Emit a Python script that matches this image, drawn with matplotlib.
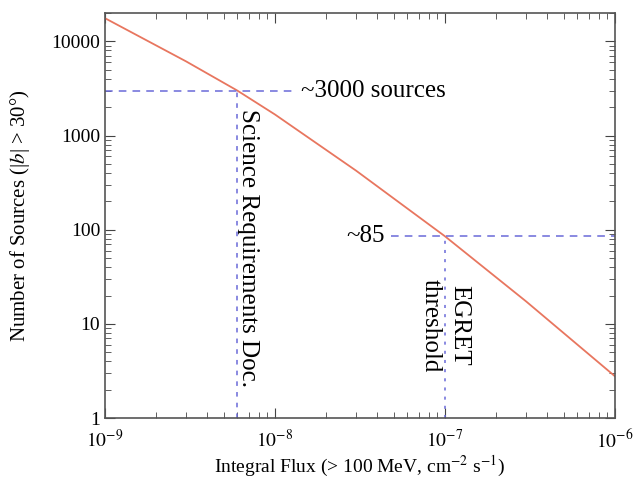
import matplotlib
matplotlib.use("Agg")
import matplotlib.pyplot as plt
from matplotlib.ticker import LogLocator, FixedLocator, NullFormatter

plt.rcParams['font.family'] = ['Liberation Serif', 'DejaVu Serif']
plt.rcParams['mathtext.fontset'] = 'stix'

# logN-logS curve
flux = [1e-9, 3e-9, 6e-9, 1e-8, 3e-8, 1e-7, 3e-7, 1e-6]
nsrc = [17600, 6120, 3000, 1670, 423, 85, 17.3, 2.77]

sci_flux = 6e-9
sci_n = 3000
egret_flux = 1e-7
egret_n = 85

fig = plt.figure(figsize=(6.38, 4.79), dpi=100)
ax = fig.add_axes([0.1646, 0.1273, 0.7994, 0.8456])

ax.plot(flux, nsrc, color='#e8765f', lw=1.3)

blue = '#6a6ad8'
ax.plot([1e-9, 1.3e-8], [sci_n, sci_n], color=blue, ls=(0, (5, 4)), lw=1.1)
ax.plot([sci_flux, sci_flux], [1, sci_n], color=blue, ls=(0, (3, 4)), lw=1.1)
ax.plot([4.8e-8, 1e-6], [egret_n, egret_n], color=blue, ls=(0, (5, 4)), lw=1.1)
ax.plot([egret_flux, egret_flux], [1, egret_n], color=blue, ls=(0, (2, 4)), lw=1.1)

ax.text(1.42e-8, sci_n, '~3000 sources', fontsize=18, va='center', ha='left')
ax.text(4.4e-8, egret_n, '~85', fontsize=18, va='center', ha='right')
ax.text(6.9e-9, 1900, 'Science Requirements Doc.', fontsize=18,
        rotation=-90, va='top', ha='center')
ax.text(egret_flux, 30, 'EGRET\nthreshold', fontsize=18, rotation=-90,
        va='top', ha='center', multialignment='center', linespacing=1.4)

ax.set_xscale('log')
ax.set_yscale('log')
ax.set_xlim(1e-9, 1e-6)
ax.set_ylim(1, 2e4)

ax.xaxis.set_major_locator(FixedLocator([1e-9, 1e-8, 1e-7, 1e-6]))
ax.xaxis.set_minor_locator(LogLocator(base=10, subs=range(2, 10)))
ax.xaxis.set_minor_formatter(NullFormatter())
ax.yaxis.set_major_locator(FixedLocator([1, 10, 100, 1000, 10000]))
ax.yaxis.set_minor_locator(LogLocator(base=10, subs=range(2, 10)))
ax.yaxis.set_minor_formatter(NullFormatter())
ax.set_yticklabels(['1', '10', '100', '1000', '10000'])
ax.set_xticklabels([r'$10^{-9}$', r'$10^{-8}$', r'$10^{-7}$', r'$10^{-6}$'])

ax.tick_params(which='both', direction='in', top=True, right=True,
               labelsize=14, color='#444444')
ax.tick_params(axis='x', which='major', pad=8)
ax.tick_params(which='major', length=7)
ax.tick_params(which='minor', length=4)
for s in ax.spines.values():
    s.set_color('#555555')
    s.set_linewidth(1.2)

ax.set_xlabel(r'Integral Flux (> 100 MeV, cm$^{-2}$ s$^{-1}$)', fontsize=14, labelpad=2)
ax.set_ylabel(r'Number of Sources (|$b$| > 30°)', fontsize=15, labelpad=14)

fig.savefig('out.png', dpi=100)
